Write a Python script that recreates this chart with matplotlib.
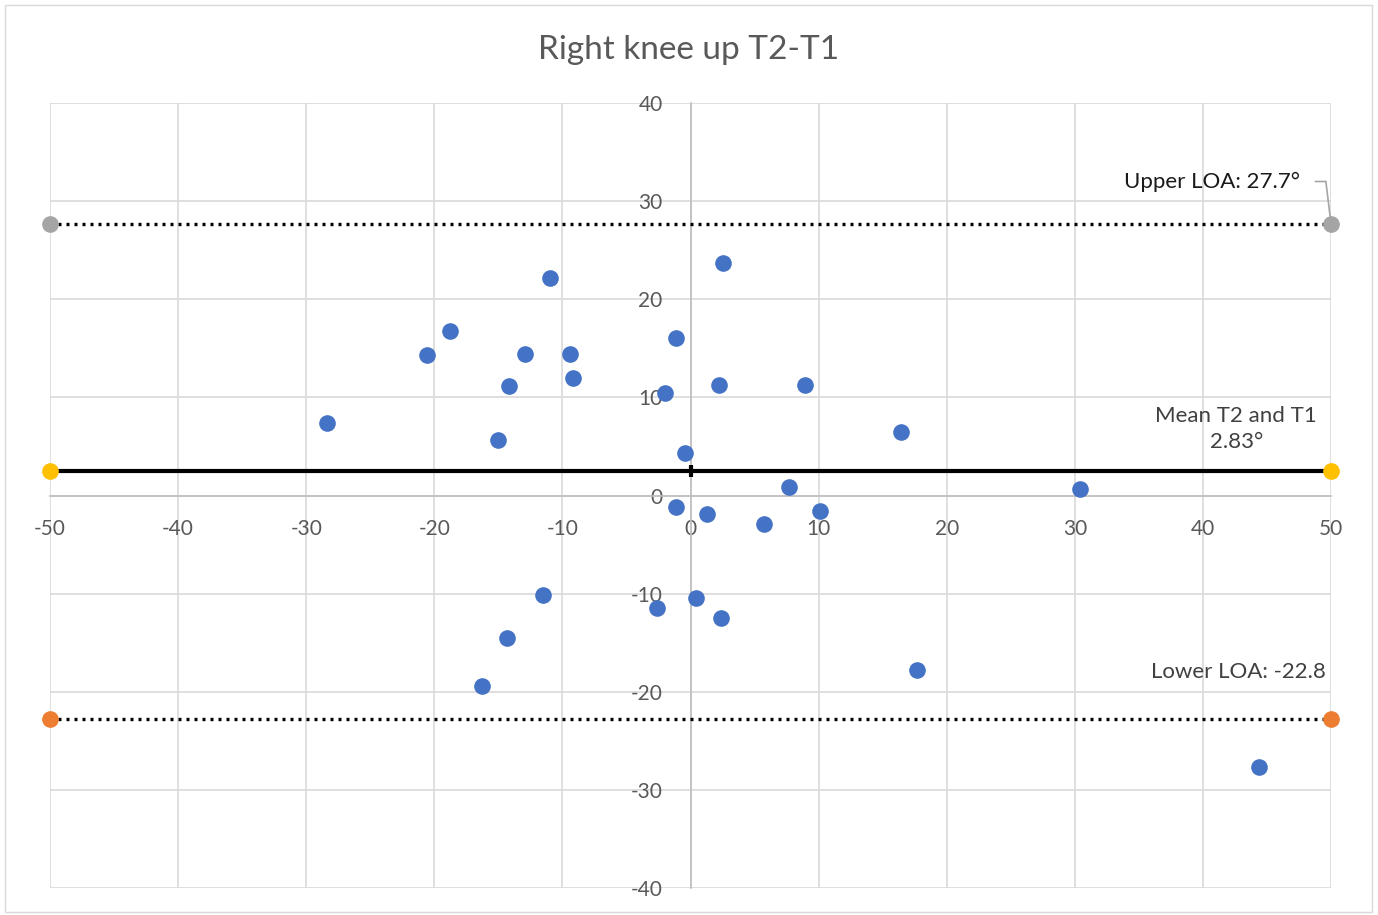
import matplotlib.pyplot as plt
from matplotlib.patches import Rectangle

plt.rcParams['font.family'] = ['Lato', 'DejaVu Sans']
plt.rcParams['axes.unicode_minus'] = False

# data (mean of T2 and T1 on x, difference on y)
mean_x = [-28.4, -20.6, -18.8, -11.0, -12.9, -9.4, -14.2, -9.2, -15.0, -1.1,
          -2.0, 2.5, 2.2, 8.9, -0.4, 16.4, 7.7, 30.4, -1.1, 1.3,
          5.7, 10.1, -11.5, -2.6, 0.4, 2.4, -14.3, -16.3, 17.7, 44.4]
diff_y = [7.4, 14.3, 16.8, 22.2, 14.4, 14.4, 11.2, 12.0, 5.7, 16.1,
          10.4, 23.7, 11.3, 11.3, 4.3, 6.5, 0.9, 0.7, -1.2, -1.9,
          -2.9, -1.6, -10.1, -11.5, -10.4, -12.5, -14.5, -19.4, -17.8, -27.7]

upper_loa = 27.7
lower_loa = -22.8
mean_line = 2.45   # where the line sits in the picture
line_x = [-50, 50]

fig = plt.figure(figsize=(13.78, 9.15), dpi=100)
ax = fig.add_axes([50 / 1378, 1 - 888 / 915, (1331 - 50) / 1378, (888 - 103) / 915])

ax.set_xlim(-50, 50)
ax.set_ylim(-40, 40)
ax.set_xticks(range(-50, 51, 10))
ax.set_yticks(range(-40, 41, 10))
ax.grid(True, color='#d9d9d9', lw=1.2)
ax.set_axisbelow(True)

for s in ['top', 'right']:
    ax.spines[s].set_visible(False)
ax.spines['left'].set_position(('data', 0))
ax.spines['bottom'].set_position(('data', 0))
ax.spines['left'].set_color('#bfbfbf')
ax.spines['bottom'].set_color('#bfbfbf')
ax.spines['left'].set_linewidth(1.2)
ax.spines['bottom'].set_linewidth(1.2)
ax.tick_params(length=0, labelsize=15, labelcolor='#595959')
ax.tick_params(axis='x', pad=17)
ax.tick_params(axis='y', pad=20)

# limit lines
ax.plot(line_x, [upper_loa] * 2, color='black', lw=2.4, ls=(0, (0.9, 1.5)),
        marker='o', ms=11, mfc='#a5a5a5', mec='#a5a5a5', clip_on=False, zorder=3)
ax.plot(line_x, [lower_loa] * 2, color='black', lw=2.4, ls=(0, (0.9, 1.5)),
        marker='o', ms=11, mfc='#ed7d31', mec='#ed7d31', clip_on=False, zorder=3)
ax.plot(line_x, [mean_line] * 2, color='black', lw=3,
        marker='o', ms=11, mfc='#ffc000', mec='#ffc000', clip_on=False, zorder=3)
ax.plot([0], [mean_line], marker='|', ms=9, mew=3, color='black', zorder=4)

ax.scatter(mean_x, diff_y, s=120, color='#4472c4', zorder=5, clip_on=False)

# labels
ax.text(47.6, 32.0, 'Upper LOA: 27.7°', ha='right', va='center',
        fontsize=16, color='#1a1a1a')
ax.plot([48.8, 49.6, 50], [32.0, 32.0, upper_loa], color='#a5a5a5', lw=1.2,
        clip_on=False, zorder=2)
ax.text(42.6, 6.8, 'Mean T2 and T1\n2.83°', ha='center', va='center',
        fontsize=16, color='#404040', linespacing=1.4)
ax.text(49.6, -18.0, 'Lower LOA: -22.8', ha='right', va='center',
        fontsize=16, color='#404040')

fig.text(689 / 1378, 1 - 50 / 915, 'Right knee up T2-T1', ha='center', va='center',
         fontsize=24, color='#595959')

fig.patches.append(Rectangle((5 / 1378, 3 / 915), 1367 / 1378, 907 / 915,
                             transform=fig.transFigure, fill=False,
                             ec='#d9d9d9', lw=1))

fig.savefig('out.png', dpi=100)
